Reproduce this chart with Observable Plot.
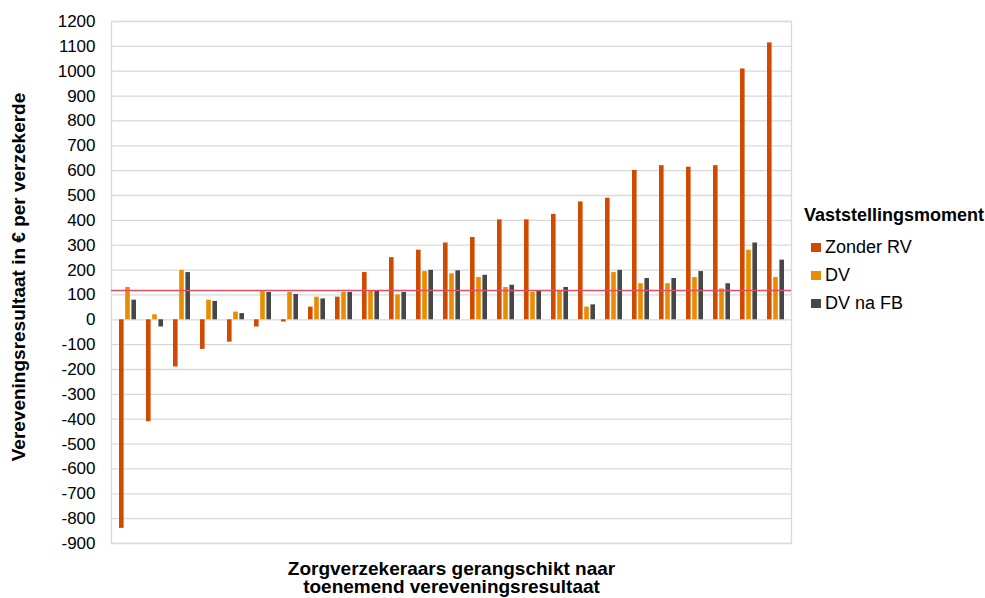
<!DOCTYPE html>
<html>
<head>
<meta charset="utf-8">
<script src="https://cdn.jsdelivr.net/npm/d3@7"></script>
<script src="https://cdn.jsdelivr.net/npm/@observablehq/plot@0.6"></script>
<style>
  body { margin: 0; background: #fff; font-family: "Liberation Sans", Arial, sans-serif; color: #000; }
  #wrap { position: relative; width: 985px; height: 598px; overflow: hidden; }
  #legend { position: absolute; left: 804px; top: 204px; }
  #legend .title { font-weight: bold; font-size: 18px; line-height: 22px; margin-bottom: 7px; white-space: nowrap; }
  #legend .item { display: flex; align-items: center; height: 28px; font-size: 18px; white-space: nowrap; }
  #legend .sw { width: 10px; height: 9px; margin-left: 7px; margin-right: 4px; }
</style>
</head>
<body>
<div id="wrap"><div id="legend"></div></div>
<script>
// Insurers ranked by increasing equalisation result
const insurers = [1, 2, 3, 4, 5, 6, 7, 8, 9, 10, 11, 12, 13, 14, 15, 16, 17, 18, 19, 20, 21, 22, 23, 24, 25];
const seriesNames = ["Zonder RV", "DV", "DV na FB"];
const zonderRV = [-839, -410, -190, -119, -90, -29, -9, 51, 91, 190, 250, 280, 309, 331, 402, 402, 424, 474, 489, 601, 620, 614, 620, 1009, 1114];
const dv       = [130, 20, 199, 79, 31, 115, 110, 91, 110, 115, 100, 194, 185, 170, 130, 110, 115, 51, 190, 145, 145, 170, 124, 280, 170];
const dvNaFB   = [79, -29, 190, 74, 25, 110, 102, 84, 110, 115, 110, 199, 197, 179, 139, 115, 130, 60, 199, 166, 166, 194, 145, 309, 240];
const referenceLine = [118];
const yTicks = [-900, -800, -700, -600, -500, -400, -300, -200, -100, 0, 100, 200, 300, 400, 500, 600, 700, 800, 900, 1000, 1100, 1200];
const yLabel = "Vereveningsresultaat in € per verzekerde";
const xLabel = "Zorgverzekeraars gerangschikt naar\ntoenemend vereveningsresultaat";
const legendTitle = "Vaststellingsmoment";
const colors = ["#d04a02", "#eb8c00", "#474747"];

const seriesValues = [zonderRV, dv, dvNaFB];
const rows = [];
seriesNames.forEach((s, si) => insurers.forEach((ins, i) => rows.push({insurer: ins, series: s, value: seriesValues[si][i]})));

const W = 985, H = 598;
const mL = 111, mR = 194, mT = 21, mB = 55;
const band = (W - mL - mR) / insurers.length;
const barW = 4.8, step = 6.2;
const insetFor = (k) => {
  const c = band / 2 + (k - 1) * step;
  return {insetLeft: c - barW / 2, insetRight: band - (c + barW / 2)};
};

const marks = [
  Plot.gridY(yTicks, {stroke: "#d9d9d9", strokeOpacity: 1, strokeWidth: 1.3}),
  Plot.frame({stroke: "#d9d9d9", strokeWidth: 1.3}),
  ...seriesNames.map((s, k) =>
    Plot.barY(rows.filter(d => d.series === s), {x: "insurer", y: "value", fill: colors[k], ...insetFor(k)})
  ),
  Plot.ruleY(referenceLine, {stroke: "#e24d66", strokeWidth: 1.5}),
  Plot.axisY(yTicks, {tickSize: 0, tickPadding: 16, fontSize: 17, label: null, tickFormat: d => String(d)}),
  Plot.text([yLabel], {frameAnchor: "left", dx: -93, dy: -5.5, rotate: -90, fontSize: 19, fontWeight: "bold", textAnchor: "middle"}),
  Plot.text([xLabel], {frameAnchor: "bottom", dy: 17.5, lineAnchor: "top", lineHeight: 1.0, fontSize: 19, fontWeight: "bold"})
];

const chart = Plot.plot({
  width: W, height: H,
  marginLeft: mL, marginRight: mR, marginTop: mT, marginBottom: mB,
  style: {fontFamily: '"Liberation Sans", Arial, sans-serif', fontSize: "17px", color: "#000", background: "#fff", overflow: "visible"},
  x: {type: "band", domain: insurers, padding: 0, axis: null},
  y: {domain: [-900, 1200], axis: null},
  marks
});
document.getElementById("wrap").prepend(chart);

const legend = document.getElementById("legend");
const t = document.createElement("div");
t.className = "title"; t.textContent = legendTitle;
legend.appendChild(t);
seriesNames.forEach((s, k) => {
  const it = document.createElement("div"); it.className = "item";
  const sw = document.createElement("span"); sw.className = "sw"; sw.style.background = colors[k];
  const lb = document.createElement("span"); lb.textContent = s;
  it.appendChild(sw); it.appendChild(lb); legend.appendChild(it);
});
</script>
</body>
</html>
